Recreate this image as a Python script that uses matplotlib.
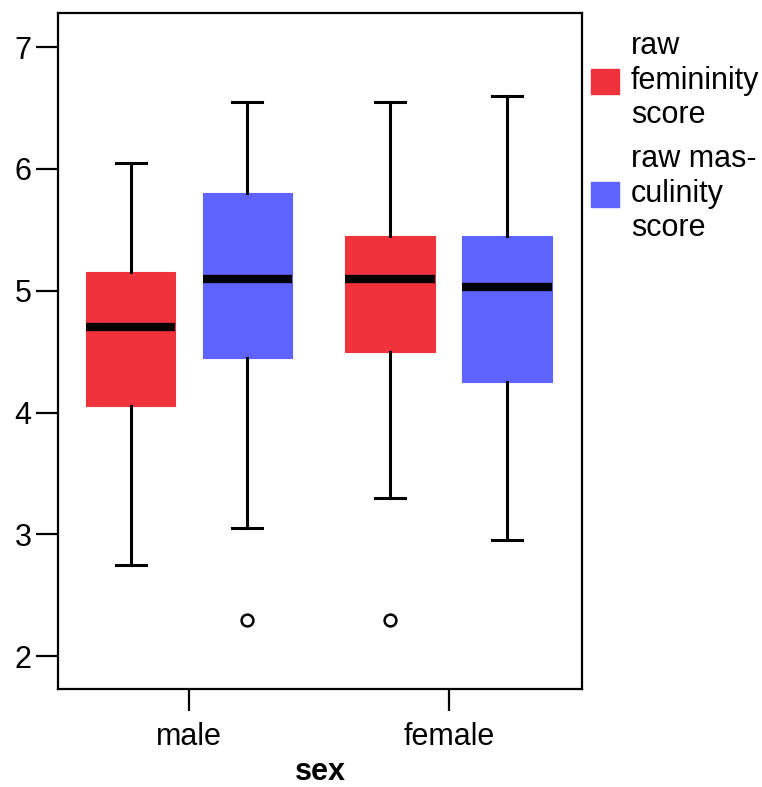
import matplotlib.pyplot as plt
from matplotlib.patches import Patch

plt.rcParams['font.family'] = ['Liberation Sans', 'DejaVu Sans']

groups = ['male', 'female']
series = ['raw\nfemininity\nscore', 'raw mas-\nculinity\nscore']
colors = ['#F0333B', '#5E62FF']

# whisker low, q1, median, q3, whisker high, outliers
fem_stats = [(2.75, 4.05, 4.70, 5.15, 6.05, []),
             (3.30, 4.50, 5.10, 5.45, 6.55, [2.30])]
masc_stats = [(3.05, 4.45, 5.10, 5.80, 6.55, [2.30]),
              (2.95, 4.25, 5.03, 5.45, 6.60, [])]

fig = plt.figure(figsize=(7.62, 7.87), dpi=100)
ax = fig.add_axes([58/762, 98/787, 524/762, 676/787])

offset = 0.225
width = 0.346
for k, data in enumerate([fem_stats, masc_stats]):
    stats = []
    pos = []
    for g, (lo, q1, med, q3, hi, fl) in enumerate(data):
        stats.append(dict(whislo=lo, q1=q1, med=med, q3=q3, whishi=hi, fliers=fl))
        pos.append(g + 1 + (offset if k else -offset))
    ax.bxp(stats, positions=pos, widths=width, patch_artist=True, showfliers=True,
           boxprops=dict(facecolor=colors[k], edgecolor=colors[k], linewidth=0.8),
           medianprops=dict(color='black', linewidth=6, solid_capstyle='butt'),
           whiskerprops=dict(color='black', linewidth=2.2),
           capprops=dict(color='black', linewidth=2.2),
           capwidths=width / 3,
           flierprops=dict(marker='o', markersize=8.5, markerfacecolor='white',
                           markeredgecolor='black', markeredgewidth=1.8))

ax.set_xlim(0.496, 2.512)
ax.set_ylim(1.73, 7.28)
ax.set_yticks([2, 3, 4, 5, 6, 7])
ax.set_xticks([1, 2])
ax.set_xticklabels(groups)
ax.tick_params(axis='both', direction='out', length=16, width=1.6, labelsize=22, pad=3)
ax.tick_params(axis='x', pad=8)
for s in ax.spines.values():
    s.set_linewidth(1.6)
ax.set_xlabel('sex', fontsize=22, fontweight='bold', labelpad=3)

handles = [Patch(facecolor=c, edgecolor=c) for c in colors]
ax.legend(handles, series, loc='upper left', bbox_to_anchor=(1.0, 0.987),
          frameon=False, fontsize=22, handlelength=0.9, handleheight=0.9,
          handletextpad=0.4, labelspacing=0.45, borderaxespad=0.2, borderpad=0.1)

fig.savefig('out.png', dpi=100)
